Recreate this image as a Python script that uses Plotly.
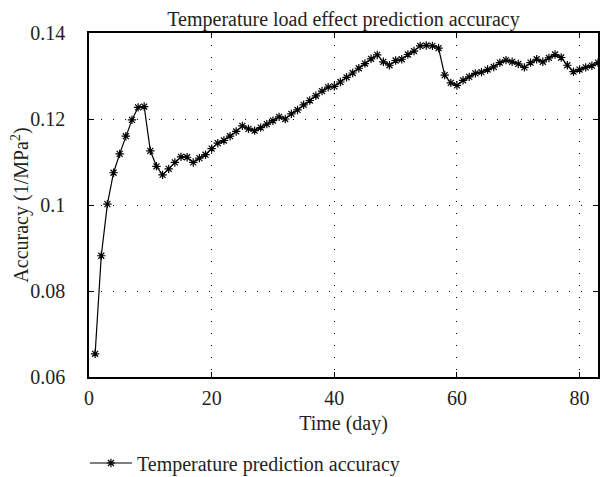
import plotly.graph_objects as go

days = list(range(1, 84))
accuracy = [
    0.0654, 0.0882, 0.1002, 0.1075, 0.1119, 0.1160, 0.1198, 0.1227, 0.1229, 0.1126,
    0.1090, 0.1070, 0.1084, 0.1099, 0.1112, 0.1111, 0.1099, 0.1109, 0.1117, 0.1131,
    0.1144, 0.1150, 0.1160, 0.1171, 0.1184, 0.1177, 0.1173, 0.1180, 0.1188, 0.1196,
    0.1205, 0.1200, 0.1212, 0.1221, 0.1233, 0.1243, 0.1254, 0.1265, 0.1274, 0.1276,
    0.1286, 0.1297, 0.1307, 0.1318, 0.1329, 0.1340, 0.1349, 0.1333, 0.1325, 0.1336,
    0.1339, 0.1350, 0.1358, 0.1370, 0.1371, 0.1370, 0.1365, 0.1302, 0.1284, 0.1278,
    0.1290, 0.1298, 0.1306, 0.1309, 0.1315, 0.1321, 0.1331, 0.1337, 0.1333, 0.1328,
    0.1320, 0.1331, 0.1339, 0.1333, 0.1342, 0.1350, 0.1343, 0.1325, 0.1310, 0.1315,
    0.1320, 0.1324, 0.1331,
]
x_ticks = [0, 20, 40, 60, 80]
y_ticks = [0.06, 0.08, 0.10, 0.12, 0.14]
y_ticktext = ["0.06", "0.08", "0.1", "0.12", "0.14"]

FONT = "Liberation Serif"
FS = 20
TXT = "#231f20"

fig = go.Figure()
fig.add_trace(go.Scatter(
    x=days, y=accuracy, mode="lines+markers",
    name="Temperature prediction accuracy",
    line=dict(color="black", width=1.2),
    marker=dict(symbol="asterisk-open", size=7, color="black",
                line=dict(color="black", width=1.2)),
    cliponaxis=False,
))

axis_common = dict(
    showline=True, linecolor="black", linewidth=1.5, mirror="ticks",
    ticks="inside", ticklen=5, tickcolor="black", tickwidth=1,
    showgrid=True, gridcolor="black", gridwidth=1, griddash="1px,11px",
    zeroline=False, automargin=False,
    tickfont=dict(family=FONT, size=FS, color=TXT),
)

fig.update_layout(
    width=608, height=477,
    margin=dict(l=81, r=18, t=25, b=108, autoexpand=False),
    paper_bgcolor="white", plot_bgcolor="white",
    font=dict(family=FONT, size=FS, color=TXT),
    title=dict(text="Temperature load effect prediction accuracy",
               x=0.5, xanchor="center", xref="paper",
               y=1 - 11 / 477, yanchor="middle",
               font=dict(family=FONT, size=FS, color=TXT)),
    xaxis=dict(range=[0, 83], tickvals=x_ticks, ticklabelstandoff=2,
               title=dict(text="Time (day)", standoff=8,
                          font=dict(family=FONT, size=FS, color=TXT)),
               **axis_common),
    yaxis=dict(range=[0.06, 0.14], tickvals=y_ticks, ticktext=y_ticktext,
               ticklabelstandoff=18,
               title=dict(text="Accuracy (1/MPa<sup>2</sup>)", standoff=4,
                          font=dict(family=FONT, size=FS, color=TXT)),
               **axis_common),
    showlegend=True,
    legend=dict(orientation="h", x=-0.008, xanchor="left", y=-0.25, yanchor="middle",
                itemwidth=42,
                font=dict(family=FONT, size=FS, color=TXT),
                bgcolor="rgba(0,0,0,0)"),
)

fig.write_html("out.html")
